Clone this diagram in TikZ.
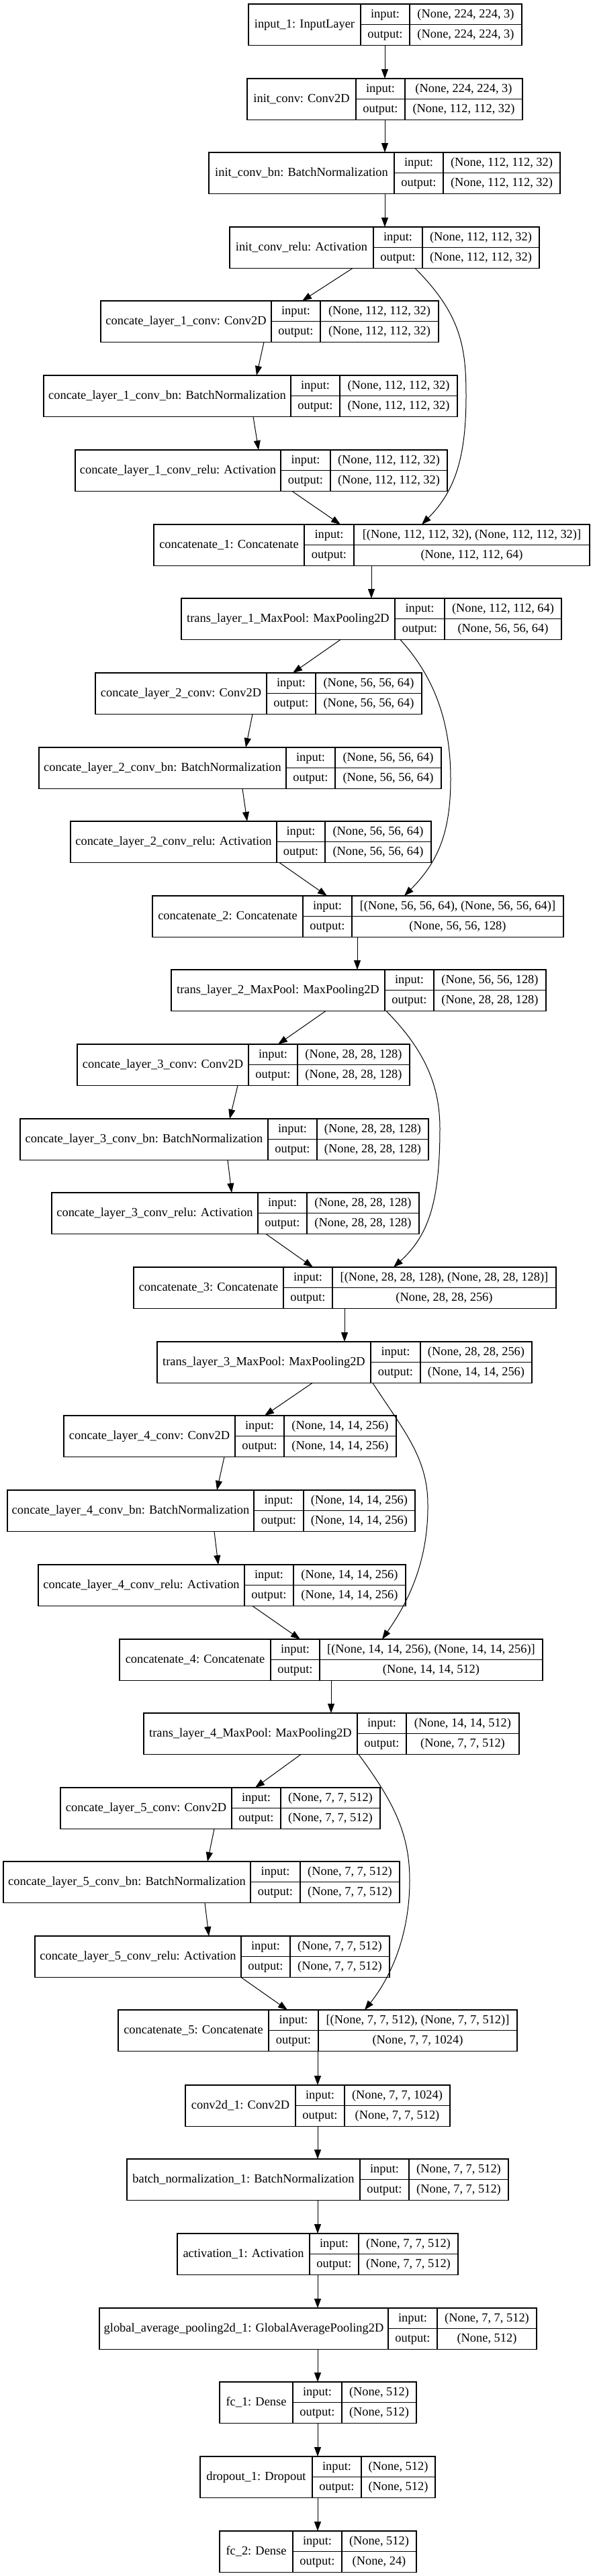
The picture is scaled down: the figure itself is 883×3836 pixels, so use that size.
\documentclass[tikz,border=0pt]{standalone}
\usepackage{fontspec}
\setmainfont{Liberation Serif}
\usetikzlibrary{arrows.meta}
\tikzset{
  kbox/.style={draw=black, line width=1.3pt, minimum height=61.5pt, inner sep=0pt, outer sep=0pt},
  kcell/.style={draw=black, line width=1.3pt},
  ktext/.style={font=\fontsize{18.4}{22}\selectfont, inner sep=0pt, text height=12.8pt, text depth=3.3pt, anchor=center},
  karr/.style={draw=black, line width=1pt, -{Triangle[length=14pt,width=10pt]}},
}
% name, x1, x2, c1, c2, ytop, label, in, out
\newcommand{\klayer}[9]{%
  \node[kbox, minimum width={#3pt-#2pt}, anchor=north west] (#1) at (#2,-#6) {};
  \draw[kcell] (#1.north west -| #4,0) -- (#1.south west -| #4,0);
  \draw[kcell] (#1.north west -| #5,0) -- (#1.south west -| #5,0);
  \draw[kcell] (#1.west -| #4,0) -- (#1.east);
  \node[ktext] (#1-l) at ({(#2+#4)/2},{-#6-30.75}) {#7};
  \node[ktext] (#1-ik) at ({(#4+#5)/2},{-#6-15.4}) {input:};
  \node[ktext] (#1-ok) at ({(#4+#5)/2},{-#6-46.1}) {output:};
  \node[ktext] (#1-iv) at ({(#5+#3)/2},{-#6-15.4}) {#8};
  \node[ktext] (#1-ov) at ({(#5+#3)/2},{-#6-46.1}) {#9};
}
\begin{document}
\begin{tikzpicture}[x=1pt,y=1pt]
\fill[white] (0,0) rectangle (883,-3836);
\useasboundingbox (0,0) rectangle (883,-3836);

\klayer{in1}{370}{777}{537}{610}{6}{input\_1: InputLayer}{(None, 224, 224, 3)}{(None, 224, 224, 3)}
\klayer{iconv}{368}{778}{530}{603}{117}{init\_conv: Conv2D}{(None, 224, 224, 3)}{(None, 112, 112, 32)}
\klayer{ibn}{311}{834}{587}{660}{227}{init\_conv\_bn: BatchNormalization}{(None, 112, 112, 32)}{(None, 112, 112, 32)}
\klayer{irelu}{342}{803}{556}{629}{338}{init\_conv\_relu: Activation}{(None, 112, 112, 32)}{(None, 112, 112, 32)}

\klayer{c1a}{150}{653}{404}{477}{448}{concate\_layer\_1\_conv: Conv2D}{(None, 112, 112, 32)}{(None, 112, 112, 32)}
\klayer{c1b}{65}{681}{433}{506}{559}{concate\_layer\_1\_conv\_bn: BatchNormalization}{(None, 112, 112, 32)}{(None, 112, 112, 32)}
\klayer{c1c}{112}{666}{418}{492}{670}{concate\_layer\_1\_conv\_relu: Activation}{(None, 112, 112, 32)}{(None, 112, 112, 32)}
\klayer{cat1}{229}{878}{453}{527}{781}{concatenate\_1: Concatenate}{[(None, 112, 112, 32), (None, 112, 112, 32)]}{(None, 112, 112, 64)}
\klayer{tr1}{270}{836}{588}{662}{891}{trans\_layer\_1\_MaxPool: MaxPooling2D}{(None, 112, 112, 64)}{(None, 56, 56, 64)}

\klayer{c2a}{142}{628}{397}{470}{1002}{concate\_layer\_2\_conv: Conv2D}{(None, 56, 56, 64)}{(None, 56, 56, 64)}
\klayer{c2b}{58}{657}{426}{499}{1113}{concate\_layer\_2\_conv\_bn: BatchNormalization}{(None, 56, 56, 64)}{(None, 56, 56, 64)}
\klayer{c2c}{105}{642}{412}{484}{1223}{concate\_layer\_2\_conv\_relu: Activation}{(None, 56, 56, 64)}{(None, 56, 56, 64)}
\klayer{cat2}{227}{839}{451}{524}{1334}{concatenate\_2: Concatenate}{[(None, 56, 56, 64), (None, 56, 56, 64)]}{(None, 56, 56, 128)}
\klayer{tr2}{255}{813}{573}{646}{1444}{trans\_layer\_2\_MaxPool: MaxPooling2D}{(None, 56, 56, 128)}{(None, 28, 28, 128)}

\klayer{c3a}{115}{610}{370}{443}{1555}{concate\_layer\_3\_conv: Conv2D}{(None, 28, 28, 128)}{(None, 28, 28, 128)}
\klayer{c3b}{30}{638}{399}{472}{1666}{concate\_layer\_3\_conv\_bn: BatchNormalization}{(None, 28, 28, 128)}{(None, 28, 28, 128)}
\klayer{c3c}{77}{624}{384}{457}{1776}{concate\_layer\_3\_conv\_relu: Activation}{(None, 28, 28, 128)}{(None, 28, 28, 128)}
\klayer{cat3}{199}{828}{422}{495}{1887}{concatenate\_3: Concatenate}{[(None, 28, 28, 128), (None, 28, 28, 128)]}{(None, 28, 28, 256)}
\klayer{tr3}{234}{792}{552}{626}{1998}{trans\_layer\_3\_MaxPool: MaxPooling2D}{(None, 28, 28, 256)}{(None, 14, 14, 256)}

\klayer{c4a}{95}{590}{350}{423}{2108}{concate\_layer\_4\_conv: Conv2D}{(None, 14, 14, 256)}{(None, 14, 14, 256)}
\klayer{c4b}{11}{618}{378}{452}{2219}{concate\_layer\_4\_conv\_bn: BatchNormalization}{(None, 14, 14, 256)}{(None, 14, 14, 256)}
\klayer{c4c}{57}{604}{364}{437}{2330}{concate\_layer\_4\_conv\_relu: Activation}{(None, 14, 14, 256)}{(None, 14, 14, 256)}
\klayer{cat4}{178}{808}{403}{476}{2441}{concatenate\_4: Concatenate}{[(None, 14, 14, 256), (None, 14, 14, 256)]}{(None, 14, 14, 512)}
\klayer{tr4}{214}{773}{532}{605}{2551}{trans\_layer\_4\_MaxPool: MaxPooling2D}{(None, 14, 14, 512)}{(None, 7, 7, 512)}

\klayer{c5a}{90}{566}{345}{418}{2662}{concate\_layer\_5\_conv: Conv2D}{(None, 7, 7, 512)}{(None, 7, 7, 512)}
\klayer{c5b}{5}{595}{373}{447}{2772}{concate\_layer\_5\_conv\_bn: BatchNormalization}{(None, 7, 7, 512)}{(None, 7, 7, 512)}
\klayer{c5c}{52}{580}{359}{432}{2883}{concate\_layer\_5\_conv\_relu: Activation}{(None, 7, 7, 512)}{(None, 7, 7, 512)}
\klayer{cat5}{176}{770}{400}{474}{2993}{concatenate\_5: Concatenate}{[(None, 7, 7, 512), (None, 7, 7, 512)]}{(None, 7, 7, 1024)}

\klayer{conv}{276}{670}{440}{513}{3105}{conv2d\_1: Conv2D}{(None, 7, 7, 1024)}{(None, 7, 7, 512)}
\klayer{bn}{189}{757}{536}{609}{3215}{batch\_normalization\_1: BatchNormalization}{(None, 7, 7, 512)}{(None, 7, 7, 512)}
\klayer{act}{264}{682}{461}{534}{3326}{activation\_1: Activation}{(None, 7, 7, 512)}{(None, 7, 7, 512)}
\klayer{gap}{148}{799}{578}{651}{3437}{global\_average\_pooling2d\_1: GlobalAveragePooling2D}{(None, 7, 7, 512)}{(None, 512)}
\klayer{fc1}{327}{620}{436}{509}{3547}{fc\_1: Dense}{(None, 512)}{(None, 512)}
\klayer{drop}{298}{648}{465}{538}{3658}{dropout\_1: Dropout}{(None, 512)}{(None, 512)}
\klayer{fc2}{327}{620}{436}{509}{3769}{fc\_2: Dense}{(None, 512)}{(None, 24)}

% straight connectors
\draw[karr] (in1.south -| 573,0) -- (iconv.north -| 573,0);
\draw[karr] (iconv.south -| 573,0) -- (ibn.north -| 573,0);
\draw[karr] (ibn.south -| 573,0) -- (irelu.north -| 573,0);
\draw[karr] (irelu.south -| 525,0) -- (c1a.north -| 450,0);
\draw[karr] (c1a.south -| 393,0) -- (c1b.north -| 382,0);
\draw[karr] (c1b.south -| 377,0) -- (c1c.north -| 385,0);
\draw[karr] (c1c.south -| 435,0) -- (cat1.north -| 507,0);
\draw[karr] (cat1.south -| 553,0) -- (tr1.north -| 553,0);

\draw[karr] (tr1.south -| 507,0) -- (c2a.north -| 436,0);
\draw[karr] (c2a.south -| 376,0) -- (c2b.north -| 366,0);
\draw[karr] (c2b.south -| 361,0) -- (c2c.north -| 368,0);
\draw[karr] (c2c.south -| 416,0) -- (cat2.north -| 487,0);
\draw[karr] (cat2.south -| 532,0) -- (tr2.north -| 532,0);

\draw[karr] (tr2.south -| 485,0) -- (c3a.north -| 414,0);
\draw[karr] (c3a.south -| 354,0) -- (c3b.north -| 342,0);
\draw[karr] (c3b.south -| 339,0) -- (c3c.north -| 345,0);
\draw[karr] (c3c.south -| 396,0) -- (cat3.north -| 466,0);
\draw[karr] (cat3.south -| 513,0) -- (tr3.north -| 513,0);

\draw[karr] (tr3.south -| 465,0) -- (c4a.north -| 394,0);
\draw[karr] (c4a.south -| 334,0) -- (c4b.north -| 323,0);
\draw[karr] (c4b.south -| 319,0) -- (c4c.north -| 325,0);
\draw[karr] (c4c.south -| 376,0) -- (cat4.north -| 447,0);
\draw[karr] (cat4.south -| 493,0) -- (tr4.north -| 493,0);

\draw[karr] (tr4.south -| 448,0) -- (c5a.north -| 380,0);
\draw[karr] (c5a.south -| 319,0) -- (c5b.north -| 309,0);
\draw[karr] (c5b.south -| 305,0) -- (c5c.north -| 311,0);
\draw[karr] (c5c.south -| 359,0) -- (cat5.north -| 428,0);

\draw[karr] (cat5.south -| 473,0) -- (conv.north -| 473,0);
\draw[karr] (conv.south -| 473,0) -- (bn.north -| 473,0);
\draw[karr] (bn.south -| 473,0) -- (act.north -| 473,0);
\draw[karr] (act.south -| 473,0) -- (gap.north -| 473,0);
\draw[karr] (gap.south -| 473,0) -- (fc1.north -| 473,0);
\draw[karr] (fc1.south -| 473,0) -- (drop.north -| 473,0);
\draw[karr] (drop.south -| 473,0) -- (fc2.north -| 473,0);

% skip connectors
\draw[karr] (irelu.south -| 618,0) .. controls (688,-469) and (694,-520) .. (694,-590)
  .. controls (694,-680) and (678,-731) .. (cat1.north -| 628,0);
\draw[karr] (tr1.south -| 596,0) .. controls (650,-1012) and (671,-1080) .. (671,-1160)
  .. controls (671,-1240) and (652,-1284) .. (cat2.north -| 602,0);
\draw[karr] (tr2.south -| 575,0) .. controls (635,-1566) and (655,-1620) .. (655,-1680)
  .. controls (655,-1790) and (638,-1840) .. (cat3.north -| 586,0);
\draw[karr] (tr3.south -| 555,0) .. controls (600,-2129) and (637,-2170) .. (637,-2240)
  .. controls (638,-2330) and (604,-2391) .. (cat4.north -| 569,0);
\draw[karr] (tr4.south -| 534,0) .. controls (586,-2683) and (610,-2730) .. (610,-2800)
  .. controls (610,-2880) and (583,-2943) .. (cat5.north -| 543,0);
\end{tikzpicture}
\end{document}
